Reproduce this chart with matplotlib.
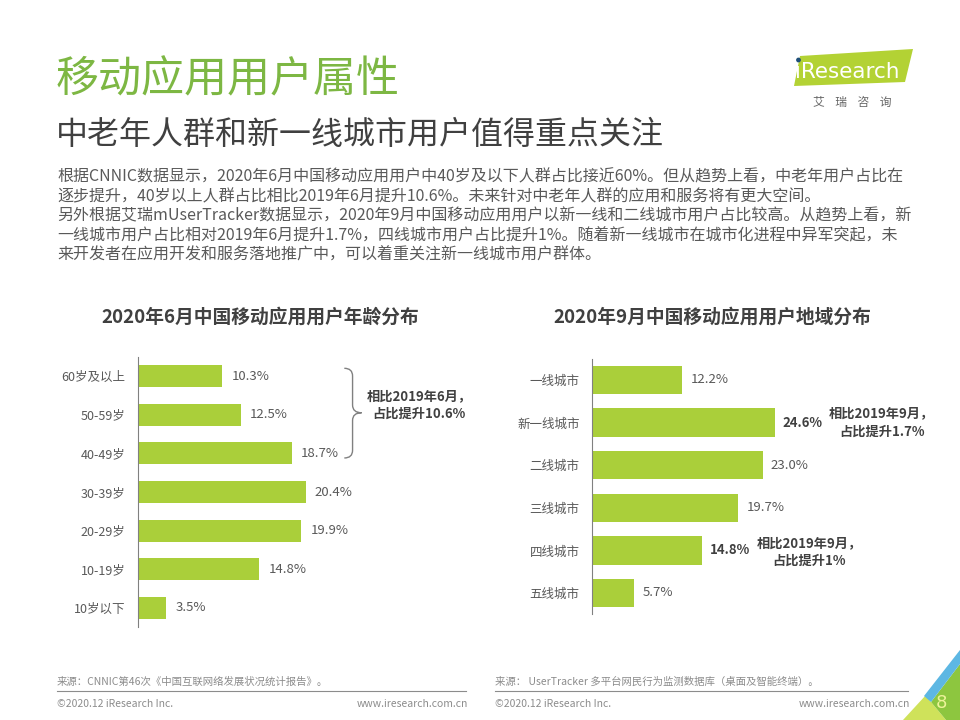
import matplotlib
matplotlib.use("Agg")
import matplotlib.pyplot as plt
from matplotlib.patches import Polygon, PathPatch, Circle
from matplotlib.path import Path

plt.rcParams['font.family'] = ['Noto Sans CJK SC', 'DejaVu Sans']

# data
age_labels = ['60岁及以上', '50-59岁', '40-49岁', '30-39岁', '20-29岁', '10-19岁', '10岁以下']
age_share = [10.3, 12.5, 18.7, 20.4, 19.9, 14.8, 3.5]
city_labels = ['一线城市', '新一线城市', '二线城市', '三线城市', '四线城市', '五线城市']
city_share = [12.2, 24.6, 23.0, 19.7, 14.8, 5.7]
bold_city = ['新一线城市', '四线城市']

bar_color = '#AACF3A'
dark = '#404040'
grey = '#595959'
light = '#8c8c8c'

W, H = 960, 720
fig = plt.figure(figsize=(9.6, 7.2), dpi=100)
fig.patch.set_facecolor('white')


def rect(left, top, right, bottom):
    return [left / W, 1 - bottom / H, (right - left) / W, (bottom - top) / H]


# page layer in pixel coordinates
bg = fig.add_axes([0, 0, 1, 1])
bg.set_xlim(0, W)
bg.set_ylim(H, 0)
bg.axis('off')

bg.text(56, 80, '移动应用用户属性', fontsize=31, color='#7DB743', va='center', ha='left')
bg.text(56, 135, '中老年人群和新一线城市用户值得重点关注', fontsize=23, color=dark, va='center', ha='left')

body = [
    '根据CNNIC数据显示，2020年6月中国移动应用用户中40岁及以下人群占比接近60%。但从趋势上看，中老年用户占比在',
    '逐步提升，40岁以上人群占比相比2019年6月提升10.6%。未来针对中老年人群的应用和服务将有更大空间。',
    '另外根据艾瑞mUserTracker数据显示，2020年9月中国移动应用用户以新一线和二线城市用户占比较高。从趋势上看，新',
    '一线城市用户占比相对2019年6月提升1.7%，四线城市用户占比提升1%。随着新一线城市在城市化进程中异军突起，未',
    '来开发者在应用开发和服务落地推广中，可以着重关注新一线城市用户群体。',
]
for i, line in enumerate(body):
    bg.text(57, 177 + i * 19.6, line, fontsize=11.5, color=grey, va='center', ha='left')

bg.text(260, 317, '2020年6月中国移动应用用户年龄分布', fontsize=13.5, fontweight='bold',
        color=dark, va='center', ha='center')
bg.text(712, 317, '2020年9月中国移动应用用户地域分布', fontsize=13.5, fontweight='bold',
        color=dark, va='center', ha='center')

# logo
bg.add_patch(Polygon([(800, 56), (913, 49), (905, 82), (794, 86)], closed=True,
                     facecolor='#B3D234', edgecolor='none'))
bg.text(795, 72, 'ıResearch', fontsize=15.5, color='white', va='center', ha='left',
        family='DejaVu Sans')
bg.add_patch(Circle((798.5, 60), 2.4, facecolor='#1F4E79', edgecolor='none'))
bg.text(852, 102, '艾    瑞    咨    询', fontsize=8.5, color='#666666', va='center', ha='center')

# footers
for x0, x1, src in [(57, 466, '来源：CNNIC第46次《中国互联网络发展状况统计报告》。'),
                    (495, 908, '来源： UserTracker 多平台网民行为监测数据库（桌面及智能终端）。')]:
    bg.text(x0, 682, src, fontsize=7.5, color=light, va='center', ha='left')
    bg.plot([x0, x1], [691, 691], color='#8c8c8c', lw=0.8)
    bg.text(x0, 704, '©2020.12 iResearch Inc.', fontsize=7.5, color=light, va='center', ha='left')
    bg.text(x1 + 2, 704, 'www.iresearch.com.cn', fontsize=7.5, color=light, va='center', ha='right')

# corner decoration
bg.add_patch(Polygon([(903, 720), (926, 695), (931, 702), (946, 720)], facecolor='#CFE25A', edgecolor='none'))
bg.add_patch(Polygon([(931, 702), (960, 664), (960, 720), (946, 720)], facecolor='#8DC63F', edgecolor='none'))
bg.add_patch(Polygon([(924, 696), (960, 650), (960, 664), (931, 702)], facecolor='#5DB7E3', edgecolor='none'))
bg.text(941, 703, '8', fontsize=13, color='#EEF39A', va='center', ha='center', family='DejaVu Sans')

# left chart
ax1 = fig.add_axes(rect(137.5, 356.7, 137.5 + 42 * 8.24, 627.3))
ax1.set_facecolor('none')
y1 = list(range(len(age_labels)))
ax1.barh(y1, age_share, height=0.57, color=bar_color)
ax1.set_xlim(0, 42)
ax1.set_ylim(len(age_labels) - 0.5, -0.5)
ax1.set_yticks(y1)
ax1.set_yticklabels(age_labels, fontsize=9, color=grey)
ax1.set_xticks([])
ax1.tick_params(axis='y', length=0, pad=8.5)
for s in ['top', 'right', 'bottom']:
    ax1.spines[s].set_visible(False)
ax1.spines['left'].set_color('#808080')
for y, v in zip(y1, age_share):
    ax1.annotate(f'{v:.1f}%', (v, y), xytext=(6.5, 0), textcoords='offset points',
                 va='center', ha='left', fontsize=9.5, color=grey)

# curly brace over 40+ groups
bx0, bx1 = 25.1, 26.1
bxt = 27.2
bt, bm, bb = -0.2, 0.95, 2.12
r = 0.2
verts = [(bx0, bt), (bx1, bt), (bx1, bt + r), (bx1, bm - r), (bx1, bm), (bxt, bm),
         (bx1, bm), (bx1, bm + r), (bx1, bb - r), (bx1, bb), (bx0, bb)]
codes = [Path.MOVETO, Path.CURVE3, Path.CURVE3, Path.LINETO, Path.CURVE3, Path.CURVE3,
         Path.CURVE3, Path.CURVE3, Path.LINETO, Path.CURVE3, Path.CURVE3]
ax1.add_patch(PathPatch(Path(verts, codes), facecolor='none', edgecolor='#808080', lw=1))
ax1.text(34.2, 0.74, '相比2019年6月，\n占比提升10.6%', fontsize=9.5, fontweight='bold',
         color=dark, ha='center', va='center', linespacing=1.35)

# right chart
ax2 = fig.add_axes(rect(591.5, 358.7, 591.5 + 48 * 7.44, 614.3))
ax2.set_facecolor('none')
y2 = list(range(len(city_labels)))
ax2.barh(y2, city_share, height=0.67, color=bar_color)
ax2.set_xlim(0, 48)
ax2.set_ylim(len(city_labels) - 0.5, -0.5)
ax2.set_yticks(y2)
ax2.set_yticklabels(city_labels, fontsize=9, color=grey)
ax2.set_xticks([])
ax2.tick_params(axis='y', length=0, pad=8.5)
for s in ['top', 'right', 'bottom']:
    ax2.spines[s].set_visible(False)
ax2.spines['left'].set_color('#808080')
for y, v, lab in zip(y2, city_share, city_labels):
    b = lab in bold_city
    ax2.annotate(f'{v:.1f}%', (v, y), xytext=(6, 0), textcoords='offset points',
                 va='center', ha='left', fontsize=9.5,
                 color=dark if b else grey, fontweight='bold' if b else 'normal')

ax2.text(39.0, 1, '相比2019年9月，\n占比提升1.7%', fontsize=9.5, fontweight='bold',
         color=dark, ha='center', va='center', linespacing=1.35)
ax2.text(29.3, 4.03, '相比2019年9月，\n占比提升1%', fontsize=9.5, fontweight='bold',
         color=dark, ha='center', va='center', linespacing=1.35)

fig.savefig('out.png', dpi=100)
